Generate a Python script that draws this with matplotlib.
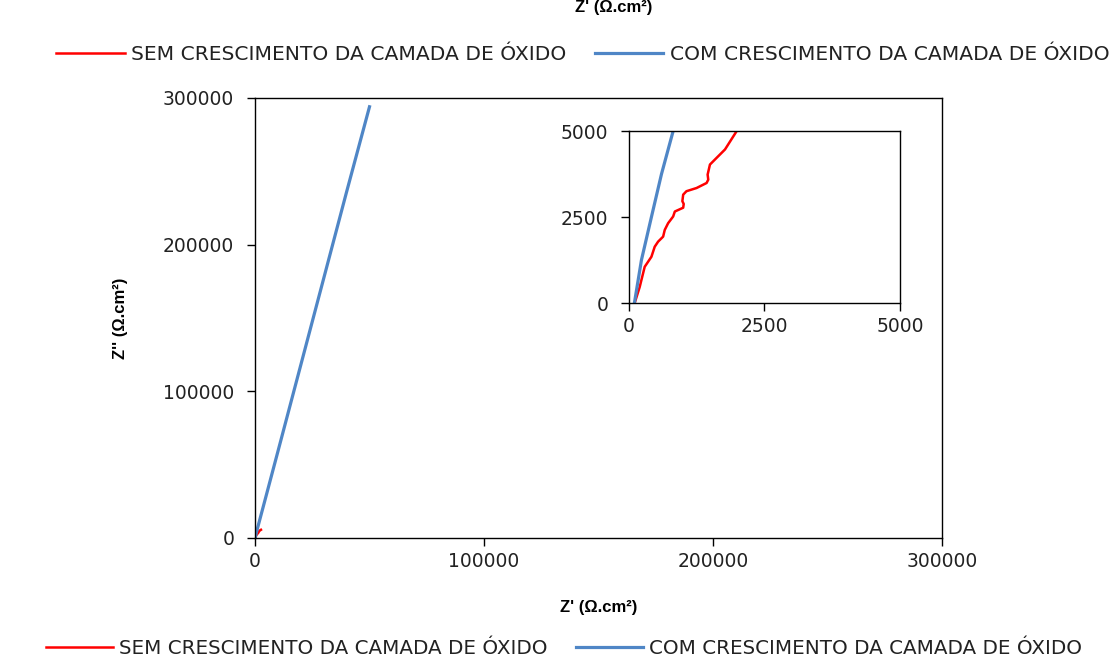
import matplotlib
matplotlib.use('Agg')
import matplotlib.pyplot as plt

# Nyquist data (Z' , Z''), ohm.cm2
zre_sem = [105, 198, 290, 414, 475, 537, 630, 660, 722, 815, 846, 1000, 1010, 985, 1000,
           1060, 1247, 1432, 1463, 1451, 1494, 1617, 1772, 1988, 2300, 2600]
zim_sem = [0, 468, 1053, 1345, 1637, 1784, 1930, 2125, 2320, 2515, 2660, 2770, 2880, 2960, 3150,
           3250, 3343, 3489, 3587, 3733, 4025, 4220, 4464, 5000, 5300, 5600]

zre_com = [100, 230, 414, 600, 815, 2000, 5000, 10000, 20000, 30000, 40000, 50000]
zim_com = [0, 1250, 2500, 3750, 5000, 12000, 29600, 59000, 118000, 177000, 236000, 294000]

label_sem = 'SEM CRESCIMENTO DA CAMADA DE ÓXIDO'
label_com = 'COM CRESCIMENTO DA CAMADA DE ÓXIDO'
main_ticks = [0, 100000, 200000, 300000]
inset_ticks = [0, 2500, 5000]

red = '#ff0000'
blue = '#4f86c6'
txt = '#222222'

plt.rcParams['font.family'] = ['DejaVu Sans']

fig = plt.figure(figsize=(11.17, 6.66), dpi=100)

def style_axis(a):
    a.tick_params(direction='out', length=6, width=1, labelsize=13.5, labelcolor=txt)
    a.tick_params(axis='y', pad=9)
    a.tick_params(axis='x', pad=4)
    for s in a.spines.values():
        s.set_linewidth(1)

ax = fig.add_axes([0.2283, 0.1922, 0.615, 0.6607])
l1, = ax.plot(zre_sem, zim_sem, color=red, lw=1.8, label=label_sem)
l2, = ax.plot(zre_com, zim_com, color=blue, lw=2.3, label=label_com)
ax.set_xlim(0, 300000)
ax.set_ylim(0, 300000)
ax.set_xticks(main_ticks)
ax.set_yticks(main_ticks)
style_axis(ax)
ax.set_xlabel("Z' (Ω.cm²)", fontsize=12, fontweight='bold', family='Liberation Sans', labelpad=21)
ax.set_ylabel("Z'' (Ω.cm²)", fontsize=12, fontweight='bold', family='Liberation Sans', labelpad=25)

# inset zoom on the origin
axi = fig.add_axes([0.5631, 0.545, 0.2426, 0.2583])
axi.plot(zre_sem, zim_sem, color=red, lw=1.8)
axi.plot(zre_com, zim_com, color=blue, lw=2.3)
axi.set_xlim(0, 5000)
axi.set_ylim(0, 5000)
axi.set_xticks(inset_ticks)
axi.set_yticks(inset_ticks)
style_axis(axi)

# stray title and legend copies at the top and bottom
fig.text(0.549, 0.988, "Z' (Ω.cm²)", fontsize=12, fontweight='bold', family='Liberation Sans',
         ha='center', va='center')

for yy, xx, fs in [(1 - 55 / 666, 0.5215, 14.6), (1 - 648 / 666, 0.505, 14.3)]:
    fig.legend(handles=[l1, l2], loc='center', bbox_to_anchor=(xx, yy), ncol=2, frameon=False,
               fontsize=fs, labelcolor=txt, handlelength=3.4, handletextpad=0.3,
               columnspacing=1.4, borderpad=0)

fig.savefig('out.png', dpi=100)
